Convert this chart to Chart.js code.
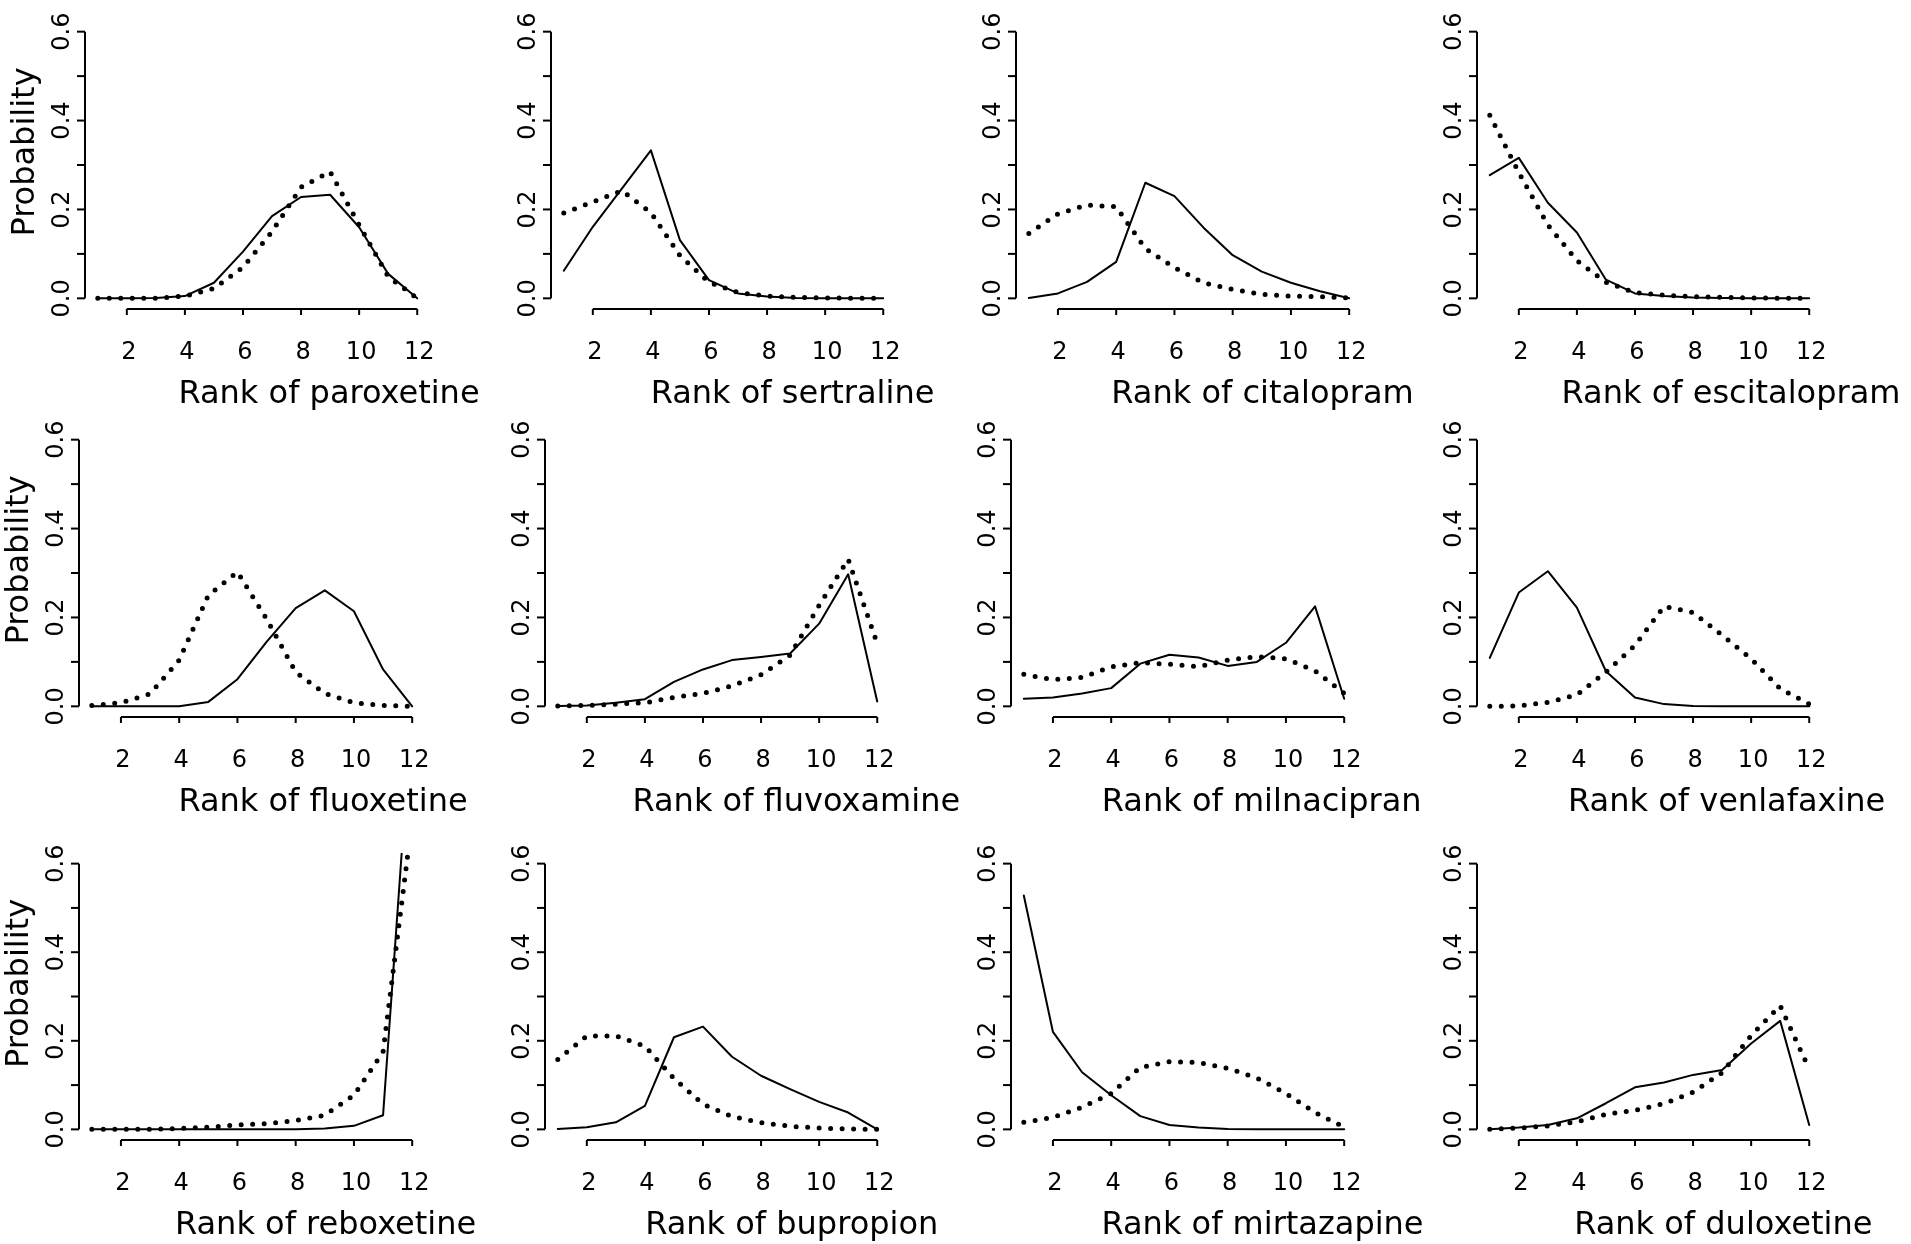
<!DOCTYPE html>
<html>
<head>
<meta charset="utf-8">
<script src="https://cdn.jsdelivr.net/npm/chart.js@4.4.1/dist/chart.umd.min.js"></script>
<style>
  html, body { margin: 0; padding: 0; background: #ffffff; }
  body { width: 1911px; height: 1244px; position: relative; overflow: hidden; }
  canvas { position: absolute; }
</style>
</head>
<body>
<script>
// ---------------- DATA ----------------
const ranks = [1, 2, 3, 4, 5, 6, 7, 8, 9, 10, 11, 12];
const xTickValues = [2, 4, 6, 8, 10, 12];
const yTickValues = [0, 0.1, 0.2, 0.3, 0.4, 0.5, 0.6];
const yLabelValues = [0, 0.2, 0.4, 0.6];
const yAxisTitle = 'Probability';
const xTitlePrefix = 'Rank of ';
const drugs = ['paroxetine', 'sertraline', 'citalopram', 'escitalopram',
               'fluoxetine', 'fluvoxamine', 'milnacipran', 'venlafaxine',
               'reboxetine', 'bupropion', 'mirtazapine', 'duloxetine'];

const paroxetineSolid   = [0, 0, 0.001, 0.005, 0.035, 0.105, 0.185, 0.228, 0.233, 0.160, 0.055, 0];
const paroxetineDotted  = [0, 0, 0, 0.005, 0.022, 0.070, 0.150, 0.250, 0.285, 0.165, 0.049, 0];
const sertralineSolid   = [0.062, 0.161, 0.247, 0.333, 0.131, 0.041, 0.011, 0.004, 0.001, 0, 0, 0];
const sertralineDotted  = [0.192, 0.217, 0.242, 0.193, 0.096, 0.036, 0.013, 0.005, 0.002, 0.001, 0, 0];
const citalopramSolid   = [0.001, 0.011, 0.037, 0.082, 0.260, 0.230, 0.159, 0.097, 0.060, 0.035, 0.016, 0];
const citalopramDotted  = [0.146, 0.190, 0.210, 0.206, 0.112, 0.069, 0.035, 0.020, 0.009, 0.005, 0.004, 0.001];
const escitalopramSolid = [0.277, 0.316, 0.215, 0.148, 0.042, 0.011, 0.005, 0.002, 0.001, 0, 0, 0];
const escitalopramDotted= [0.412, 0.283, 0.165, 0.085, 0.036, 0.013, 0.007, 0.004, 0.002, 0.001, 0, 0];
const fluoxetineSolid   = [0, 0, 0, 0, 0.010, 0.061, 0.145, 0.221, 0.261, 0.214, 0.083, 0];
const fluoxetineDotted  = [0.002, 0.008, 0.028, 0.104, 0.250, 0.302, 0.197, 0.077, 0.029, 0.008, 0.002, 0];
const fluvoxamineSolid  = [0.001, 0.002, 0.008, 0.016, 0.055, 0.083, 0.104, 0.111, 0.119, 0.186, 0.297, 0.011];
const fluvoxamineDotted = [0.001, 0.002, 0.005, 0.008, 0.020, 0.029, 0.046, 0.071, 0.115, 0.227, 0.331, 0.141];
const milnacipranSolid  = [0.017, 0.020, 0.029, 0.041, 0.096, 0.116, 0.110, 0.091, 0.100, 0.143, 0.225, 0.017];
const milnacipranDotted = [0.072, 0.060, 0.065, 0.089, 0.098, 0.095, 0.089, 0.104, 0.112, 0.107, 0.080, 0.029];
const venlafaxineSolid  = [0.109, 0.256, 0.304, 0.222, 0.079, 0.020, 0.005, 0.001, 0, 0, 0, 0];
const venlafaxineDotted = [0, 0.001, 0.009, 0.026, 0.077, 0.137, 0.225, 0.211, 0.160, 0.107, 0.040, 0.005];
const reboxetineSolid   = [0, 0, 0, 0, 0, 0, 0, 0, 0.002, 0.008, 0.032, 0.958];
const reboxetineDotted  = [0, 0, 0, 0.002, 0.005, 0.010, 0.013, 0.020, 0.032, 0.077, 0.175, 0.700];
const bupropionSolid    = [0.001, 0.005, 0.016, 0.053, 0.208, 0.232, 0.164, 0.121, 0.091, 0.062, 0.038, 0];
const bupropionDotted   = [0.158, 0.211, 0.211, 0.188, 0.115, 0.057, 0.029, 0.015, 0.007, 0.003, 0.001, 0];
const mirtazapineSolid  = [0.528, 0.220, 0.129, 0.077, 0.030, 0.010, 0.004, 0.001, 0, 0, 0, 0];
const mirtazapineDotted = [0.016, 0.027, 0.050, 0.081, 0.140, 0.153, 0.151, 0.138, 0.116, 0.081, 0.038, 0.005];
const duloxetineSolid   = [0, 0.004, 0.010, 0.025, 0.059, 0.095, 0.106, 0.123, 0.134, 0.194, 0.245, 0.010];
const duloxetineDotted  = [0, 0.003, 0.008, 0.017, 0.034, 0.043, 0.058, 0.084, 0.128, 0.212, 0.279, 0.136];

const solidSeries  = [paroxetineSolid, sertralineSolid, citalopramSolid, escitalopramSolid,
                      fluoxetineSolid, fluvoxamineSolid, milnacipranSolid, venlafaxineSolid,
                      reboxetineSolid, bupropionSolid, mirtazapineSolid, duloxetineSolid];
const dottedSeries = [paroxetineDotted, sertralineDotted, citalopramDotted, escitalopramDotted,
                      fluoxetineDotted, fluvoxamineDotted, milnacipranDotted, venlafaxineDotted,
                      reboxetineDotted, bupropionDotted, mirtazapineDotted, duloxetineDotted];

// ---------------- LAYOUT (pixels) ----------------
const panelX = [[127, 417.7], [592.7, 883.3], [1058.3, 1349.3], [1519, 1809.3],
                [120.7, 412.3], [587.3, 877.7], [1053, 1344], [1519, 1809.3],
                [120.7, 412.3], [587.3, 877.7], [1053, 1344], [1519, 1809.3]];
const rowY = [[298.5, 31.3], [706, 439.3], [1129.3, 863.3]];
const titleCX = [329, 792.5, 1262.5, 1731, 323, 796.3, 1261.7, 1726.7, 325.6, 791.7, 1262.5, 1723.3];

const FONT = '"DejaVu Sans", "Liberation Sans", sans-serif';
const PAD = { left: 100, top: 30, right: 150, bottom: 110 };
const X_MIN = 1 - 0.04 * 11, X_MAX = 12 + 0.04 * 11;
const Y_MIN = -0.04 * 0.6, Y_MAX = 0.6 + 0.04 * 0.6;

const rAxes = {
  id: 'rAxes',
  afterDraw(chart, args, opts) {
    const { ctx, chartArea, scales } = chart;
    const x = scales.x, y = scales.y;
    ctx.save();
    ctx.strokeStyle = '#000';
    ctx.fillStyle = '#000';
    ctx.lineWidth = 2;
    ctx.lineCap = 'butt';
    const ax = chartArea.left;
    ctx.beginPath();
    ctx.moveTo(ax, y.getPixelForValue(yTickValues[0]));
    ctx.lineTo(ax, y.getPixelForValue(yTickValues[yTickValues.length - 1]));
    ctx.stroke();
    yTickValues.forEach(v => {
      const py = y.getPixelForValue(v);
      ctx.beginPath(); ctx.moveTo(ax, py); ctx.lineTo(ax - 8, py); ctx.stroke();
    });
    ctx.font = '24px ' + FONT;
    ctx.textAlign = 'center';
    ctx.textBaseline = 'alphabetic';
    yLabelValues.forEach(v => {
      const py = y.getPixelForValue(v);
      ctx.save();
      ctx.translate(ax - 16, py);
      ctx.rotate(-Math.PI / 2);
      ctx.fillText(v.toFixed(1), 0, 0);
      ctx.restore();
    });
    const by = chartArea.bottom;
    ctx.beginPath();
    ctx.moveTo(x.getPixelForValue(xTickValues[0]), by);
    ctx.lineTo(x.getPixelForValue(xTickValues[xTickValues.length - 1]), by);
    ctx.stroke();
    xTickValues.forEach(v => {
      const px = x.getPixelForValue(v);
      ctx.beginPath(); ctx.moveTo(px, by); ctx.lineTo(px, by + 6); ctx.stroke();
      ctx.fillText(String(v), px + 2, by + 50);
    });
    ctx.font = '32px ' + FONT;
    ctx.fillText(xTitlePrefix + opts.drug, opts.titleX, by + 94);
    if (opts.showY) {
      const cy = (y.getPixelForValue(0) + y.getPixelForValue(0.6)) / 2 - 13;
      ctx.save();
      ctx.translate(ax - 51, cy);
      ctx.rotate(-Math.PI / 2);
      ctx.fillText(yAxisTitle, 0, 0);
      ctx.restore();
    }
    ctx.restore();
  }
};

drugs.forEach((drug, i) => {
  const row = Math.floor(i / 4), col = i % 4;
  const [x2, x12] = panelX[i];
  const unit = (x12 - x2) / 10;
  const [y0, y6] = rowY[row];
  const yu = (y0 - y6) / 0.6;
  const L = Math.round(x2 + (X_MIN - 2) * unit);
  const R = Math.round(x12 + (X_MAX - 12) * unit);
  const T = Math.round(y0 - Y_MAX * yu);
  const B = Math.round(y0 - Y_MIN * yu);
  const cv = document.createElement('canvas');
  const left = L - PAD.left, top = T - PAD.top;
  cv.width = (R - L) + PAD.left + PAD.right;
  cv.height = (B - T) + PAD.top + PAD.bottom;
  cv.style.left = left + 'px';
  cv.style.top = top + 'px';
  cv.style.width = cv.width + 'px';
  cv.style.height = cv.height + 'px';
  document.body.appendChild(cv);

  new Chart(cv, {
    type: 'line',
    data: {
      datasets: [
        {
          label: 'dotted',
          data: ranks.map((r, k) => ({ x: r, y: dottedSeries[i][k] })),
          borderColor: '#000',
          borderWidth: 5,
          borderDash: [0, 11.5],
          borderCapStyle: 'round',
          borderJoinStyle: 'round',
          pointRadius: 0,
          tension: 0,
          fill: false,
          order: 0,
          clip: 0
        },
        {
          label: 'solid',
          data: ranks.map((r, k) => ({ x: r, y: solidSeries[i][k] })),
          borderColor: '#000',
          borderWidth: 2,
          borderCapStyle: 'round',
          borderJoinStyle: 'round',
          pointRadius: 0,
          tension: 0,
          fill: false,
          order: 1,
          clip: 0
        }
      ]
    },
    options: {
      responsive: false,
      animation: false,
      devicePixelRatio: 1,
      events: [],
      layout: { padding: { left: PAD.left, top: PAD.top, right: PAD.right, bottom: PAD.bottom } },
      scales: {
        x: { type: 'linear', min: X_MIN, max: X_MAX, display: false },
        y: { type: 'linear', min: Y_MIN, max: Y_MAX, display: false }
      },
      plugins: {
        legend: { display: false },
        tooltip: { enabled: false },
        title: { display: false },
        rAxes: { drug: drug, titleX: titleCX[i] - left, showY: col === 0 }
      }
    },
    plugins: [rAxes]
  });
});
</script>
</body>
</html>
